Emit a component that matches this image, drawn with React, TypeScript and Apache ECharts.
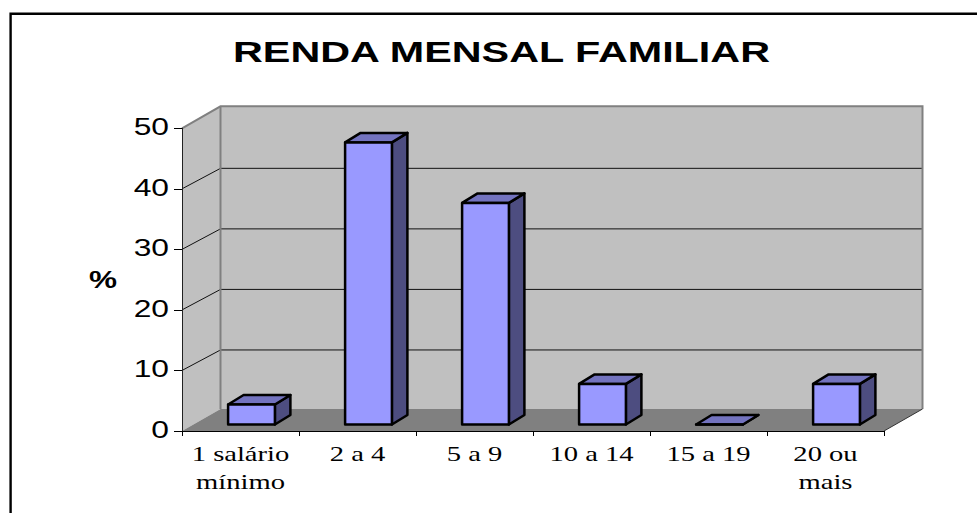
import React, { useEffect, useRef } from "react";
import * as echarts from "echarts";

const categories = ["1 salário\nmínimo", "2 a 4", "5 a 9", "10 a 14", "15 a 19", "20 ou\nmais"];
const values = [3.3, 46.6, 36.6, 6.7, 0, 6.7];
const yTicks = [0, 10, 20, 30, 40, 50];
const titleText = "RENDA MENSAL FAMILIAR";
const yName = "%";

const DEPTH_X = 38.5;
const DEPTH_Y = 22;
const GRID_DEPTH_Y = 20.5;
const BAR_DX = 11;
const BAR_DY = 6.5;
const BAR_DEPTH_X = 15.5;
const BAR_DEPTH_Y = 9.5;

const renderWalls = (_: any, api: any) => {
  const [x0, y0] = api.coord([0, 0]);
  const bandW = api.size([1, 0])[0];
  const left = x0 - bandW / 2;
  const right = left + bandW * categories.length;
  const top = api.coord([0, 50])[1];
  const pts = (p: number[][]) => ({ points: p });
  const children: any[] = [
    { type: "polygon", shape: pts([[left, y0], [left, top], [left + DEPTH_X, top - DEPTH_Y], [left + DEPTH_X, y0 - DEPTH_Y]]), style: { fill: "#C0C0C0" } },
    { type: "rect", shape: { x: left + DEPTH_X, y: top - DEPTH_Y, width: right - left, height: y0 - top }, style: { fill: "#C0C0C0" } },
    { type: "polygon", shape: pts([[left, y0], [right, y0], [right + DEPTH_X, y0 - DEPTH_Y], [left + DEPTH_X, y0 - DEPTH_Y]]), style: { fill: "#808080" } },
  ];
  yTicks.slice(1, -1).forEach((t) => {
    const y = api.coord([0, t])[1];
    children.push({
      type: "polyline",
      shape: pts([[left, y], [left + DEPTH_X, y - GRID_DEPTH_Y], [right + DEPTH_X, y - GRID_DEPTH_Y]]),
      style: { fill: "none", stroke: "#111111", lineWidth: 1 },
    });
  });
  children.push({
    type: "polyline",
    shape: pts([[left, top], [left + DEPTH_X, top - DEPTH_Y], [right + DEPTH_X, top - DEPTH_Y], [right + DEPTH_X, y0 - DEPTH_Y]]),
    style: { fill: "none", stroke: "#808080", lineWidth: 2 },
  });
  children.push({
    type: "line",
    shape: { x1: left + DEPTH_X, y1: top - DEPTH_Y, x2: left + DEPTH_X, y2: y0 - DEPTH_Y },
    style: { stroke: "#808080", lineWidth: 2 },
  });
  children.push({
    type: "line",
    shape: { x1: right, y1: y0, x2: right + DEPTH_X, y2: y0 - DEPTH_Y },
    style: { stroke: "#333333", lineWidth: 1 },
  });
  return { type: "group", children };
};

const renderBar = (_: any, api: any) => {
  const i = api.value(0);
  const v = api.value(1);
  const [cx, yTop] = api.coord([i, v]);
  const yBase = api.coord([i, 0])[1];
  const w = api.size([1, 0])[0] * 0.4;
  const l = cx + BAR_DX - w / 2;
  const r = l + w;
  const t = yTop - BAR_DY;
  const b = yBase - BAR_DY;
  const edge = { stroke: "#000000", lineWidth: 2.5, lineJoin: "round" };
  return {
    type: "group",
    children: [
      { type: "polygon", shape: { points: [[r, t], [r + BAR_DEPTH_X, t - BAR_DEPTH_Y], [r + BAR_DEPTH_X, b - BAR_DEPTH_Y], [r, b]] }, style: { fill: "#4D4D80", ...edge } },
      { type: "polygon", shape: { points: [[l, t], [l + BAR_DEPTH_X, t - BAR_DEPTH_Y], [r + BAR_DEPTH_X, t - BAR_DEPTH_Y], [r, t]] }, style: { fill: "#7373BF", ...edge } },
      { type: "polygon", shape: { points: [[l, t], [r, t], [r, b], [l, b]] }, style: { fill: "#9999FF", ...edge } },
    ],
  };
};

const renderYLabel = (params: any, api: any) => {
  const t = yTicks[params.dataIndex];
  const [x, y] = api.coord([0, t]);
  const left = x - api.size([1, 0])[0] / 2;
  return {
    type: "text",
    x: left - 13,
    y: y - 1,
    scaleX: 1.38,
    style: { text: String(t), fill: "#000000", fontFamily: "Liberation Sans", fontSize: 23, align: "right", verticalAlign: "middle" },
  };
};

const renderXLabel = (params: any, api: any) => {
  const [x, y] = api.coord([params.dataIndex, 0]);
  return {
    type: "text",
    x,
    y: y + 9,
    scaleX: 1.43,
    style: { text: categories[params.dataIndex], fill: "#000000", fontFamily: "Liberation Serif", fontSize: 20, lineHeight: 28, align: "center", verticalAlign: "top" },
  };
};

export default function App() {
  const ref = useRef<HTMLDivElement>(null);
  useEffect(() => {
    document.body.style.margin = "0";
    const chart = echarts.init(ref.current!, undefined, { renderer: "svg" });
    chart.setOption({
      animation: false,
      backgroundColor: "#ffffff",
      grid: { left: 182, right: 93, top: 128.3, bottom: 82, containLabel: false },
      xAxis: {
        type: "category",
        data: categories,
        z: 3,
        axisLine: { lineStyle: { color: "#000000", width: 1 } },
        axisTick: { show: true, alignWithLabel: false, length: 5, lineStyle: { color: "#000000" } },
        axisLabel: { show: false },
      },
      yAxis: {
        type: "value",
        min: 0,
        max: 50,
        interval: 10,
        z: 3,
        splitLine: { show: false },
        axisLine: { show: true, lineStyle: { color: "#222222", width: 1 } },
        axisTick: { show: true, length: 8, lineStyle: { color: "#000000" } },
        axisLabel: { show: false },
      },
      graphic: [
        { type: "rect", silent: true, z: 0, shape: { x: 10.6, y: 13.8, width: 1100, height: 700 }, style: { fill: "none", stroke: "#000000", lineWidth: 2.4 } },
        { type: "text", silent: true, x: 501.5, y: 51.6, scaleX: 1.377, style: { text: titleText, fill: "#000000", fontFamily: "Liberation Sans", fontWeight: "bold", fontSize: 30, align: "center", verticalAlign: "middle" } },
        { type: "text", silent: true, x: 103, y: 280.3, scaleX: 1.37, style: { text: yName, fill: "#000000", fontFamily: "Liberation Sans", fontWeight: "bold", fontSize: 23, align: "center", verticalAlign: "middle" } },
      ],
      series: [
        { type: "custom", z: 1, silent: true, renderItem: renderWalls, data: [[0, 0]] },
        { type: "custom", z: 4, silent: true, renderItem: renderBar, data: values.map((v, i) => [i, v]), encode: { x: 0, y: 1 } },
        { type: "custom", z: 5, silent: true, clip: false, renderItem: renderYLabel, data: yTicks.map((t) => [0, t]), encode: { x: 0, y: 1 } },
        { type: "custom", z: 5, silent: true, clip: false, renderItem: renderXLabel, data: categories.map((_, i) => [i, 0]), encode: { x: 0, y: 1 } },
      ],
    });
    return () => chart.dispose();
  }, []);
  return <div ref={ref} style={{ position: "absolute", left: 0, top: 0, width: 977, height: 513 }} />;
}
